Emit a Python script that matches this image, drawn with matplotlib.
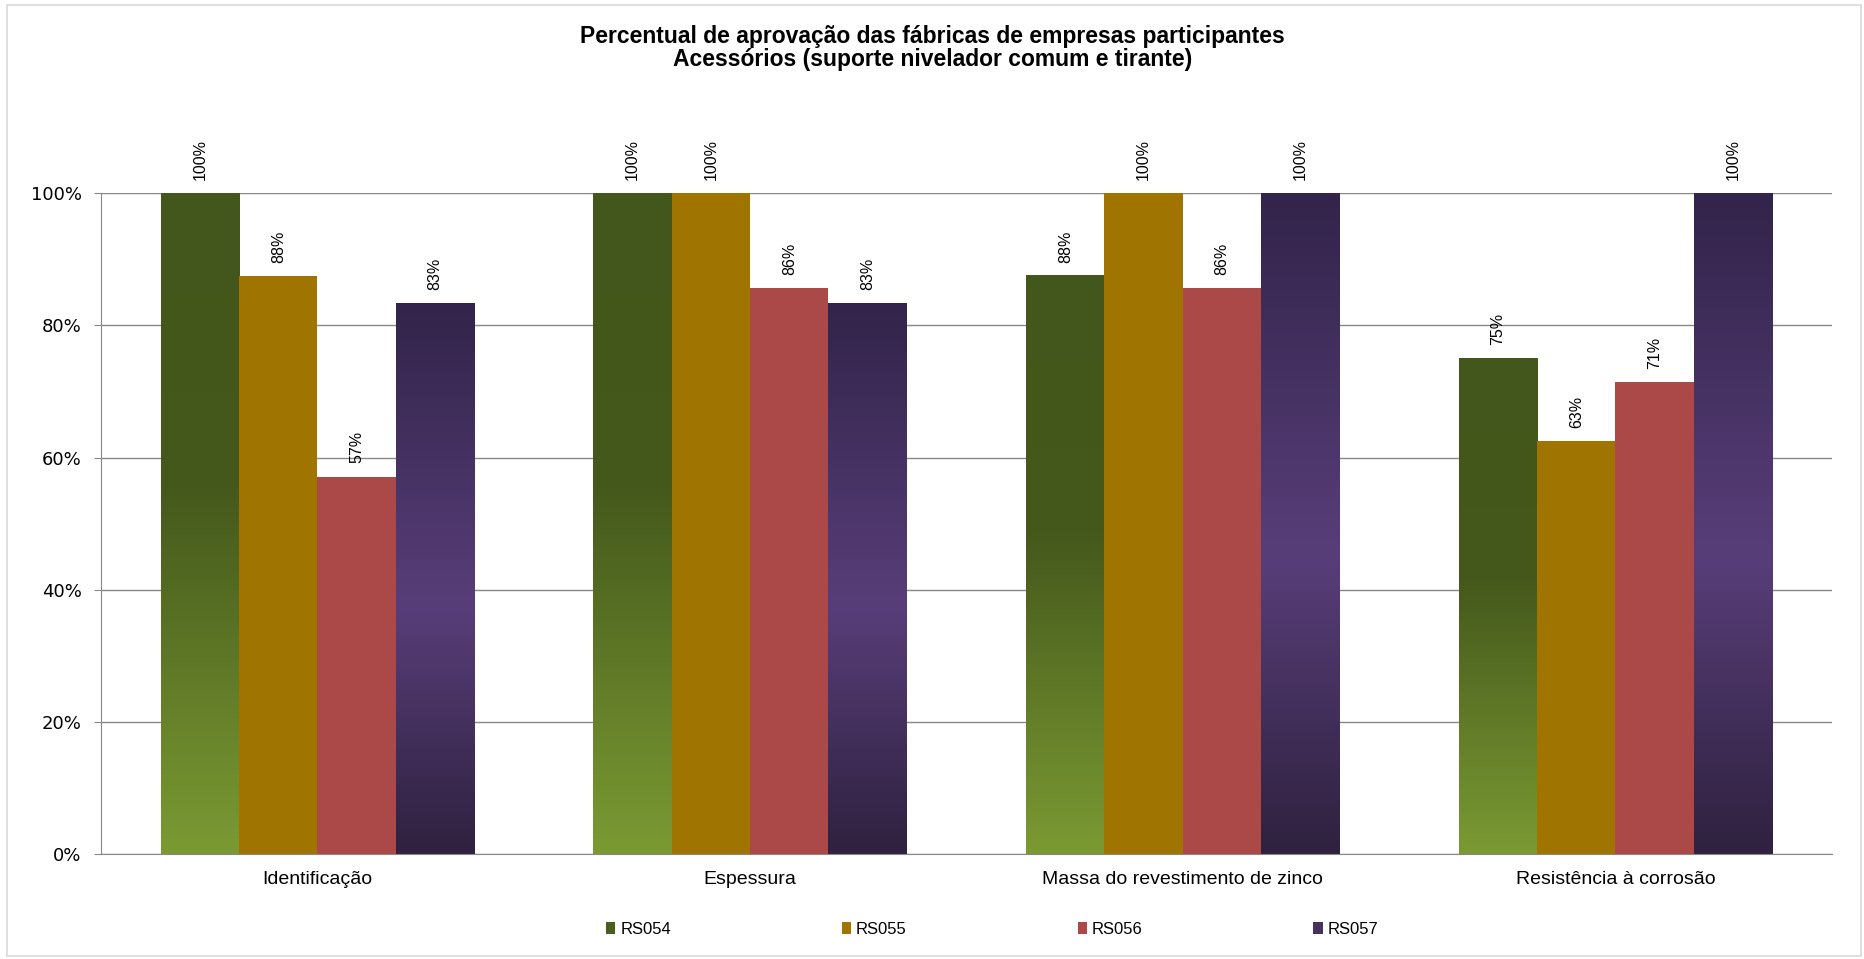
import matplotlib.pyplot as plt
from matplotlib import font_manager
from matplotlib.colors import LinearSegmentedColormap
from matplotlib.patches import Patch, Rectangle
import numpy as np

categorias = ["Identificação", "Espessura", "Massa do revestimento de zinco", "Resistência à corrosão"]
series = ["RS054", "RS055", "RS056", "RS057"]
valores = {
    "RS054": [1.0, 1.0, 0.875, 0.75],
    "RS055": [0.875, 1.0, 1.0, 0.625],
    "RS056": [0.571, 0.857, 0.857, 0.714],
    "RS057": [0.833, 0.833, 1.0, 1.0],
}
rotulos_y = ["0%", "20%", "40%", "60%", "80%", "100%"]

cores = {"RS054": "#4a5f1e", "RS055": "#a07400", "RS056": "#ab4848", "RS057": "#46325f"}
# gradientes por barra (topo -> base)
grad = {
    "RS054": LinearSegmentedColormap.from_list("g", [(0, "#43561b"), (0.45, "#45591c"), (1, "#7b9a33")]),
    "RS057": LinearSegmentedColormap.from_list("p", [(0, "#32244a"), (0.55, "#583e79"), (1, "#2f213f")]),
}

nomes = {f.name for f in font_manager.fontManager.ttflist}
if "Liberation Sans Narrow" in nomes:
    fonte_rot, tam_rot = "Liberation Sans Narrow", 13.5
else:
    fonte_rot, tam_rot = "Liberation Sans", 11.5

fig = plt.figure(figsize=(18.65, 9.59), dpi=100)
ax = fig.add_axes([0.0542, 0.1095, 0.928, 0.689])

x = np.arange(len(categorias))
w = 0.181
for i, s in enumerate(series):
    bars = ax.bar(x + (i - 1.5) * w, valores[s], w, color=cores[s], zorder=2)
    for b, v in zip(bars, valores[s]):
        if s in grad:
            b.set_facecolor("none")
            g = np.linspace(0, 1, 256).reshape(-1, 1)
            ax.imshow(g, cmap=grad[s], aspect="auto", zorder=2,
                      extent=[b.get_x(), b.get_x() + b.get_width(), 0, b.get_height()],
                      origin="upper", interpolation="bicubic")
        ax.text(b.get_x() + b.get_width() / 2, v + 0.02, f"{int(v * 100 + 0.5)}%", rotation=90,
                ha="center", va="bottom", fontsize=tam_rot, family=fonte_rot,
                clip_on=False)

ax.set_xlim(-0.5, len(categorias) - 0.5)
ax.set_ylim(0, 1)
ax.set_yticks(np.linspace(0, 1, 6))
ax.set_yticklabels(rotulos_y, fontsize=13, family="DejaVu Sans")
ax.set_xticks(x)
ax.set_xticklabels(categorias, fontsize=14, family="Liberation Sans")
ax.tick_params(axis="x", length=0, pad=12)
ax.tick_params(axis="y", length=5, color="#888888", pad=9)
ax.grid(axis="y", color="#888888", linewidth=1, zorder=0)
ax.set_axisbelow(True)
for sp in ["top", "right"]:
    ax.spines[sp].set_visible(False)
for sp in ["left", "bottom"]:
    ax.spines[sp].set_color("#888888")

fig.text(0.5, 0.974, "Percentual de aprovação das fábricas de empresas participantes\nAcessórios (suporte nivelador comum e tirante)",
         ha="center", va="top", fontsize=16.5, fontweight="bold", family="Liberation Sans", linespacing=1.0)

handles = [Patch(facecolor=cores[s], label=s) for s in series]
fig.legend(handles=handles, loc="center", bbox_to_anchor=(0.532, 0.031), ncol=4, frameon=False,
           prop={"family": "Liberation Sans", "size": 12}, handlelength=0.55, handleheight=0.7,
           handletextpad=0.3, columnspacing=10.25)

fig.patches.append(Rectangle((0.004, 0.003), 0.994, 0.992, transform=fig.transFigure,
                             fill=False, edgecolor="#d9d9d9", linewidth=1.2))

fig.savefig("out.png", dpi=100, facecolor="white")
